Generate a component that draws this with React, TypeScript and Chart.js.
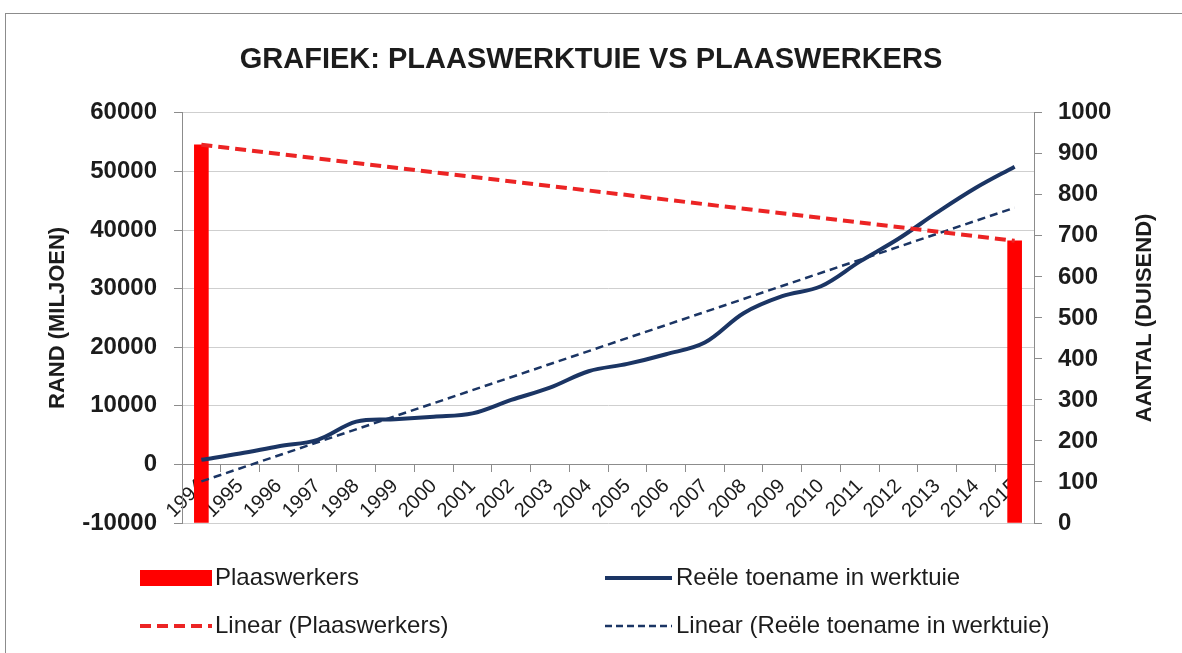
import React, { useEffect, useRef } from 'react';
import { Chart, registerables } from 'chart.js';

Chart.register(...registerables);

// ---- data ----
const years = ['1994', '1995', '1996', '1997', '1998', '1999', '2000', '2001', '2002', '2003', '2004', '2005', '2006', '2007', '2008', '2009', '2010', '2011', '2012', '2013', '2014', '2015'];

// Plaaswerkers (duisend) - only first and last year
const plaaswerkers = [922, null, null, null, null, null, null, null, null, null, null, null, null, null, null, null, null, null, null, null, null, 688];

// Reële toename in werktuie (R miljoen)
const werktuie = [800, 1850, 3100, 4200, 7300, 7700, 8150, 8700, 11000, 13100, 15900, 17150, 18800, 20800, 25800, 28700, 30400, 34600, 38500, 43000, 47200, 50800];

// Linear trend endpoints
const trendPlaaswerkers = [922, null, null, null, null, null, null, null, null, null, null, null, null, null, null, null, null, null, null, null, null, 688];
const trendWerktuie = [-2900, null, null, null, null, null, null, null, null, null, null, null, null, null, null, null, null, null, null, null, null, 43800];

// Tick values
const randTicks = [-10000, 0, 10000, 20000, 30000, 40000, 50000, 60000];
const aantalTicks = [0, 100, 200, 300, 400, 500, 600, 700, 800, 900, 1000];

const FONT = '"Liberation Sans", Arial, sans-serif';
const TEXT = '#1c1c1c';
const AXIS = '#8c8c8c';

const rightTitlePlugin = {
  id: 'rightTitle',
  afterDraw(chart: any) {
    const { ctx, chartArea } = chart;
    ctx.save();
    ctx.translate(1145, (chartArea.top + chartArea.bottom) / 2);
    ctx.rotate(-Math.PI / 2);
    ctx.font = `bold 22px ${FONT}`;
    ctx.fillStyle = TEXT;
    ctx.textAlign = 'center';
    ctx.textBaseline = 'middle';
    ctx.fillText('AANTAL (DUISEND)', 0, 0);
    ctx.restore();
  },
};

function Swatch({ kind }: { kind: string }) {
  if (kind === 'bar') {
    return (
      <svg width="72" height="20" style={{ display: 'block' }}>
        <rect x="0" y="2" width="72" height="16" fill="#ff0000" />
      </svg>
    );
  }
  if (kind === 'line') {
    return (
      <svg width="67" height="20" style={{ display: 'block' }}>
        <line x1="0" y1="10" x2="67" y2="10" stroke="#1b3564" strokeWidth="4" />
      </svg>
    );
  }
  if (kind === 'redDash') {
    return (
      <svg width="72" height="20" style={{ display: 'block' }}>
        <line x1="0" y1="10" x2="72" y2="10" stroke="#ec2424" strokeWidth="4" strokeDasharray="11 6" />
      </svg>
    );
  }
  return (
    <svg width="67" height="20" style={{ display: 'block' }}>
      <line x1="0" y1="10" x2="67" y2="10" stroke="#1b3564" strokeWidth="2.5" strokeDasharray="7 4" />
    </svg>
  );
}

function LegendItem({ kind, label, x, y, textX }: { kind: string; label: string; x: number; y: number; textX: number }) {
  return (
    <>
      <div style={{ position: 'absolute', left: x, top: y - 10 }}>
        <Swatch kind={kind} />
      </div>
      <div
        style={{
          position: 'absolute',
          left: textX,
          top: y - 15,
          height: 30,
          lineHeight: '30px',
          font: `24px ${FONT}`,
          color: TEXT,
          whiteSpace: 'nowrap',
        }}
      >
        {label}
      </div>
    </>
  );
}

export default function App() {
  const ref = useRef<HTMLCanvasElement | null>(null);

  useEffect(() => {
    const canvas = ref.current;
    if (!canvas) return;
    const chart = new Chart(canvas, {
      type: 'bar',
      data: {
        labels: years,
        datasets: [
          {
            type: 'bar',
            label: 'Plaaswerkers',
            data: plaaswerkers as any,
            yAxisID: 'y1',
            backgroundColor: '#ff0000',
            barThickness: 14,
            order: 4,
          },
          {
            type: 'line',
            label: 'Reële toename in werktuie',
            data: werktuie,
            yAxisID: 'y',
            borderColor: '#1b3564',
            borderWidth: 4,
            tension: 0.35,
            pointRadius: 0,
            fill: false,
            order: 2,
          },
          {
            type: 'line',
            label: 'Linear (Plaaswerkers)',
            data: trendPlaaswerkers as any,
            yAxisID: 'y1',
            borderColor: '#ec2424',
            borderWidth: 4,
            borderDash: [11, 6],
            spanGaps: true,
            pointRadius: 0,
            fill: false,
            order: 1,
          },
          {
            type: 'line',
            label: 'Linear (Reële toename in werktuie)',
            data: trendWerktuie as any,
            yAxisID: 'y',
            borderColor: '#1b3564',
            borderWidth: 2.5,
            borderDash: [8, 5],
            spanGaps: true,
            pointRadius: 0,
            fill: false,
            order: 3,
          },
        ],
      } as any,
      options: {
        animation: false,
        responsive: false,
        layout: { padding: { left: 0, right: 0, top: 0, bottom: 130 } },
        plugins: {
          legend: { display: false },
          tooltip: { enabled: false },
          title: {
            display: true,
            text: 'GRAFIEK: PLAASWERKTUIE VS PLAASWERKERS',
            color: TEXT,
            font: { family: FONT, size: 29, weight: 'bold', lineHeight: 1.2 },
            padding: { top: 43, bottom: 35 },
          },
        },
        scales: {
          x: {
            type: 'category',
            position: { y: 0 } as any,
            offset: true,
            grid: {
              offset: true,
              drawOnChartArea: false,
              drawTicks: true,
              tickLength: 7,
              color: AXIS,
            },
            border: { display: true, color: AXIS, width: 1 },
            ticks: {
              autoSkip: false,
              minRotation: 45,
              maxRotation: 45,
              padding: 3,
              color: TEXT,
              font: { family: FONT, size: 20 },
            },
          },
          y: {
            position: 'left',
            min: randTicks[0],
            max: randTicks[randTicks.length - 1],
            ticks: {
              stepSize: randTicks[1] - randTicks[0],
              padding: 17,
              color: TEXT,
              font: { family: FONT, size: 24, weight: 'bold' },
              callback: (v: any) => String(v),
            },
            grid: { color: '#cfcfcf', tickColor: AXIS, tickLength: 8 },
            border: { display: true, color: AXIS },
            title: {
              display: true,
              text: 'RAND (MILJOEN)',
              color: TEXT,
              font: { family: FONT, size: 22, weight: 'bold', lineHeight: 1.2 },
              padding: { top: 45, bottom: 0 },
            },
            afterFit: (s: any) => {
              s.width = 182;
            },
          },
          y1: {
            position: 'right',
            min: aantalTicks[0],
            max: aantalTicks[aantalTicks.length - 1],
            ticks: {
              stepSize: aantalTicks[1] - aantalTicks[0],
              padding: 16,
              color: TEXT,
              font: { family: FONT, size: 24, weight: 'bold' },
              callback: (v: any) => String(v),
            },
            grid: { drawOnChartArea: false, color: AXIS, tickLength: 8 },
            border: { display: true, color: AXIS },
            afterFit: (s: any) => {
              s.width = 148;
            },
          },
        },
      } as any,
      plugins: [rightTitlePlugin],
    });
    return () => chart.destroy();
  }, []);

  return (
    <div
      style={{
        position: 'fixed',
        left: 0,
        top: 0,
        width: 1182,
        height: 653,
        background: '#ffffff',
        overflow: 'hidden',
      }}
    >
      <div
        style={{
          position: 'absolute',
          left: 5,
          top: 13,
          width: 1190,
          height: 700,
          border: `1px solid ${AXIS}`,
        }}
      />
      <canvas
        ref={ref}
        width={1182}
        height={653}
        style={{ position: 'absolute', left: 0, top: 0, width: 1182, height: 653 }}
      />
      <LegendItem kind="bar" label="Plaaswerkers" x={140} y={578} textX={215} />
      <LegendItem kind="line" label="Reële toename in werktuie" x={605} y={578} textX={676} />
      <LegendItem kind="redDash" label="Linear (Plaaswerkers)" x={140} y={626} textX={215} />
      <LegendItem kind="blueDash" label="Linear (Reële toename in werktuie)" x={605} y={626} textX={676} />
    </div>
  );
}
